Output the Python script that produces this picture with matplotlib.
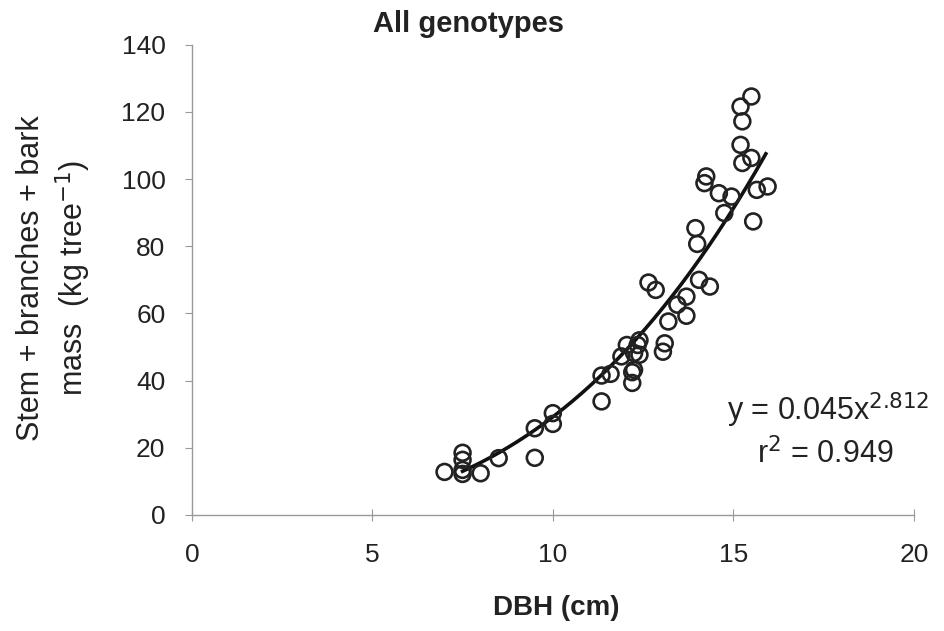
import matplotlib.pyplot as plt
import numpy as np

plt.rcParams["font.family"] = ["Liberation Sans", "DejaVu Sans"]

# DBH (cm) and stem + branches + bark mass (kg/tree)
dbh = [7.0, 7.5, 7.5, 7.5, 7.5, 8.0, 8.5, 9.5, 9.5, 10.0, 10.0,
       11.35, 11.35, 11.6, 12.2, 12.2, 12.25, 12.4, 12.4, 11.9, 12.05,
       12.35, 12.25, 13.05, 13.1, 13.2, 13.45, 13.7, 13.7, 12.65, 12.85,
       14.05, 14.35, 14.0, 13.95, 14.2, 14.25, 14.6, 14.95, 14.75, 15.65,
       15.95, 15.55, 15.2, 15.25, 15.2, 15.5, 15.25, 15.5]
mass = [12.8, 18.5, 16.4, 13.4, 12.2, 12.4, 16.9, 17.0, 25.8, 30.3, 27.1,
        33.8, 41.5, 42.0, 42.5, 39.3, 43.2, 47.7, 52.0, 47.2, 50.6,
        50.6, 48.2, 48.6, 51.1, 57.6, 62.6, 65.0, 59.3, 69.2, 67.0,
        70.0, 68.0, 80.7, 85.4, 98.8, 100.8, 95.8, 94.8, 89.9, 96.8,
        97.8, 87.4, 110.2, 104.8, 121.6, 124.6, 117.2, 106.3]

# power trendline as printed on the chart
coef_a = 0.045
coef_b = 2.812
r2 = 0.949
fit_range = (7.5, 15.9)

ink = "#222222"

fig = plt.figure(figsize=(9.45, 6.31), dpi=100)
ax = fig.add_axes([0.203, 0.184, 0.764, 0.745])

ax.scatter(dbh, mass, s=130, facecolors="none", edgecolors=ink,
           linewidths=1.9, zorder=3)

xf = np.linspace(*fit_range, 200)
ax.plot(xf, coef_a * xf ** coef_b, color="#111111", lw=2.6, zorder=2)

ax.set_xlim(0, 20)
ax.set_ylim(0, 140)
ax.set_xticks([0, 5, 10, 15, 20])
ax.set_yticks(np.arange(0, 141, 20))
for side in ("top", "right"):
    ax.spines[side].set_visible(False)
for side in ("left", "bottom"):
    ax.spines[side].set_color("#999999")
    ax.spines[side].set_linewidth(1.0)
ax.tick_params(axis="y", colors="#999999", length=5, direction="out",
               labelsize=19, labelcolor=ink, pad=14)
ax.tick_params(axis="x", colors="#999999", length=8, direction="inout",
               labelsize=19, labelcolor=ink, pad=16)

fig.text(0.496, 0.962, "All genotypes", ha="center", va="center",
         fontsize=21, fontweight="bold", color=ink)
fig.text(0.589, 0.036, "DBH (cm)", ha="center", va="center",
         fontsize=20, fontweight="bold", color=ink)
fig.text(0.058, 0.559, "Stem + branches + bark\nmass  (kg tree$^{-1}$)",
         rotation=90, ha="center", va="center", multialignment="center",
         fontsize=22, color=ink, linespacing=1.25)

ax.text(1.022, 0.222, f"y = {coef_a}x$^{{{coef_b}}}$", transform=ax.transAxes,
        ha="right", va="center", fontsize=22, color=ink)
ax.text(0.972, 0.13, f"r$^2$ = {r2}", transform=ax.transAxes,
        ha="right", va="center", fontsize=22, color=ink)

fig.savefig("out.png", dpi=100)
